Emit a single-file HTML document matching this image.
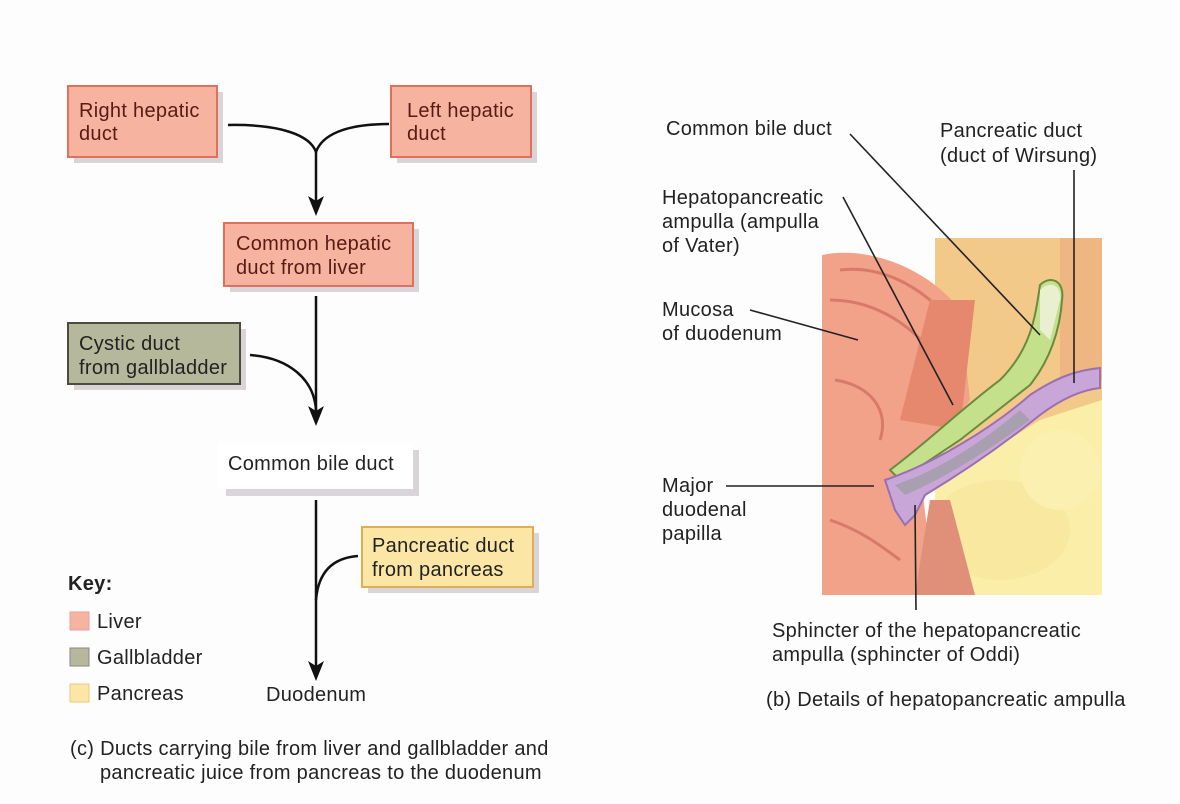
<!DOCTYPE html>
<html><head><meta charset="utf-8"><style>
html,body{margin:0;padding:0;background:#fdfdfd;}
svg{display:block;}
text{font-family:"Liberation Sans",sans-serif;font-size:20px;letter-spacing:0.3px;fill:#222;}
.b{fill:#5a1a14;}
</style></head><body>
<svg width="1180" height="804" viewBox="0 0 1180 804" xmlns="http://www.w3.org/2000/svg">
<rect width="1180" height="804" fill="#fdfdfd"/>
<g fill="#d8d4d8">
<rect x="74" y="92" width="149" height="71"/>
<rect x="397" y="92" width="140" height="71"/>
<rect x="230" y="229" width="189" height="63"/>
<rect x="74" y="329" width="172" height="61"/>
<rect x="226" y="450" width="193" height="46"/>
<rect x="368" y="533" width="171" height="60"/>
</g>
<rect x="68" y="86" width="149" height="71" fill="#f5b3a0" stroke="#e0705e" stroke-width="2"/>
<rect x="391" y="86" width="140" height="71" fill="#f5b3a0" stroke="#e0705e" stroke-width="2"/>
<rect x="224" y="223" width="189" height="63" fill="#f5b3a0" stroke="#e0705e" stroke-width="2"/>
<rect x="68" y="323" width="172" height="61" fill="#b6b89c" stroke="#4a4d3c" stroke-width="2"/>
<rect x="218" y="443" width="195" height="46" fill="#fff"/>
<rect x="362" y="527" width="171" height="60" fill="#fbe6a6" stroke="#e0ad55" stroke-width="2"/>
<text x="79" y="117" class="b">Right hepatic</text><text x="79" y="140" class="b">duct</text>
<text x="407" y="117" class="b">Left hepatic</text><text x="407" y="140" class="b">duct</text>
<text x="236" y="250" class="b">Common hepatic</text><text x="236" y="274" class="b">duct from liver</text>
<text x="79" y="350">Cystic duct</text><text x="79" y="374">from gallbladder</text>
<text x="228" y="470">Common bile duct</text>
<text x="372" y="552">Pancreatic duct</text><text x="372" y="576">from pancreas</text>
<g fill="none" stroke="#111" stroke-width="2.5">
<path d="M228,125 C280,124 310,135 316,152 C322,135 345,124 389,124"/>
<path d="M316,152 L316,205"/>
<path d="M316,296 L316,415"/>
<path d="M250,355 C290,358 314,380 316,410"/>
<path d="M316,500 L316,670"/>
<path d="M358,556 C330,558 318,575 316,600"/>
</g>
<g fill="#111">
<path d="M308,196 L316,216 L324,196 L316,201Z"/>
<path d="M308,406 L316,426 L324,406 L316,411Z"/>
<path d="M308,661 L316,681 L324,661 L316,666Z"/>
</g>
<text x="68" y="590" style="font-weight:bold">Key:</text>
<rect x="70" y="612" width="19" height="18" fill="#f5b3a0" stroke="#e8a0a0"/>
<rect x="70" y="648" width="19" height="18" fill="#b6b89c" stroke="#888"/>
<rect x="70" y="684" width="19" height="18" fill="#fbe6a6" stroke="#eec880"/>
<text x="97" y="628">Liver</text><text x="97" y="664">Gallbladder</text><text x="97" y="700">Pancreas</text>
<text x="266" y="701">Duodenum</text>
<text x="70" y="755">(c) Ducts carrying bile from liver and gallbladder and</text>
<text x="100" y="779">pancreatic juice from pancreas to the duodenum</text>

<!-- illustration -->
<rect x="935" y="238" width="167" height="357" fill="#fbeea8"/>
<path d="M935,238 L1102,238 L1102,400 L1040,420 L960,470 L935,420 Z" fill="#f3c98a"/>
<path d="M1060,238 L1102,238 L1102,380 L1060,380Z" fill="#eeb680"/>
<ellipse cx="1000" cy="530" rx="70" ry="50" fill="#f8e8a0"/>
<ellipse cx="1060" cy="470" rx="40" ry="40" fill="#fbf0b0"/>
<path d="M822,255 C870,245 930,270 960,310 L970,400 L920,470 L935,595 L822,595 Z" fill="#f2a288"/>
<path d="M840,270 C880,265 920,285 950,320 M830,300 C870,300 905,320 930,350 M835,380 C870,385 890,410 880,440 M830,520 C860,530 880,545 900,560" stroke="#d87a68" stroke-width="3" fill="none"/>
<path d="M900,420 L930,300 L975,300 L960,430Z" fill="#e5886e"/>
<path d="M915,595 L930,500 L950,500 L975,595Z" fill="#e09078"/>
<path d="M890,470 C930,440 960,410 1000,380 C1030,350 1035,320 1040,285 C1050,275 1065,280 1062,300 C1060,330 1050,360 1030,385 L960,440 L900,480Z" fill="#c5e08a" stroke="#6a8a40" stroke-width="2"/>
<path d="M1040,290 C1050,280 1062,285 1060,300 L1050,340 L1040,330Z" fill="#e8f0d0"/>
<path d="M885,480 C930,465 990,430 1030,395 C1060,375 1080,370 1100,368 L1100,388 C1080,390 1060,400 1040,415 C990,455 950,480 925,495 L915,515 L905,525 L895,510Z" fill="#c9a6d8" stroke="#9a70b0" stroke-width="2"/>
<path d="M895,485 C940,470 985,440 1020,410 L1030,420 C990,450 945,478 905,495Z" fill="#a8a0b0"/>
<g stroke="#222" stroke-width="1.6" fill="none">
<line x1="850" y1="134" x2="1040" y2="335"/>
<line x1="843" y1="197" x2="953" y2="405"/>
<line x1="750" y1="310" x2="858" y2="340"/>
<line x1="1074" y1="170" x2="1074" y2="383"/>
<line x1="726" y1="486" x2="874" y2="486"/>
<line x1="915" y1="505" x2="916" y2="610"/>
</g>
<text x="666" y="135">Common bile duct</text>
<text x="940" y="137">Pancreatic duct</text><text x="940" y="162">(duct of Wirsung)</text>
<text x="662" y="204">Hepatopancreatic</text><text x="662" y="228">ampulla (ampulla</text><text x="662" y="252">of Vater)</text>
<text x="662" y="316">Mucosa</text><text x="662" y="340">of duodenum</text>
<text x="662" y="492">Major</text><text x="662" y="516">duodenal</text><text x="662" y="540">papilla</text>
<text x="772" y="637">Sphincter of the hepatopancreatic</text><text x="772" y="661">ampulla (sphincter of Oddi)</text>
<text x="766" y="706">(b) Details of hepatopancreatic ampulla</text>
</svg>
</body></html>
